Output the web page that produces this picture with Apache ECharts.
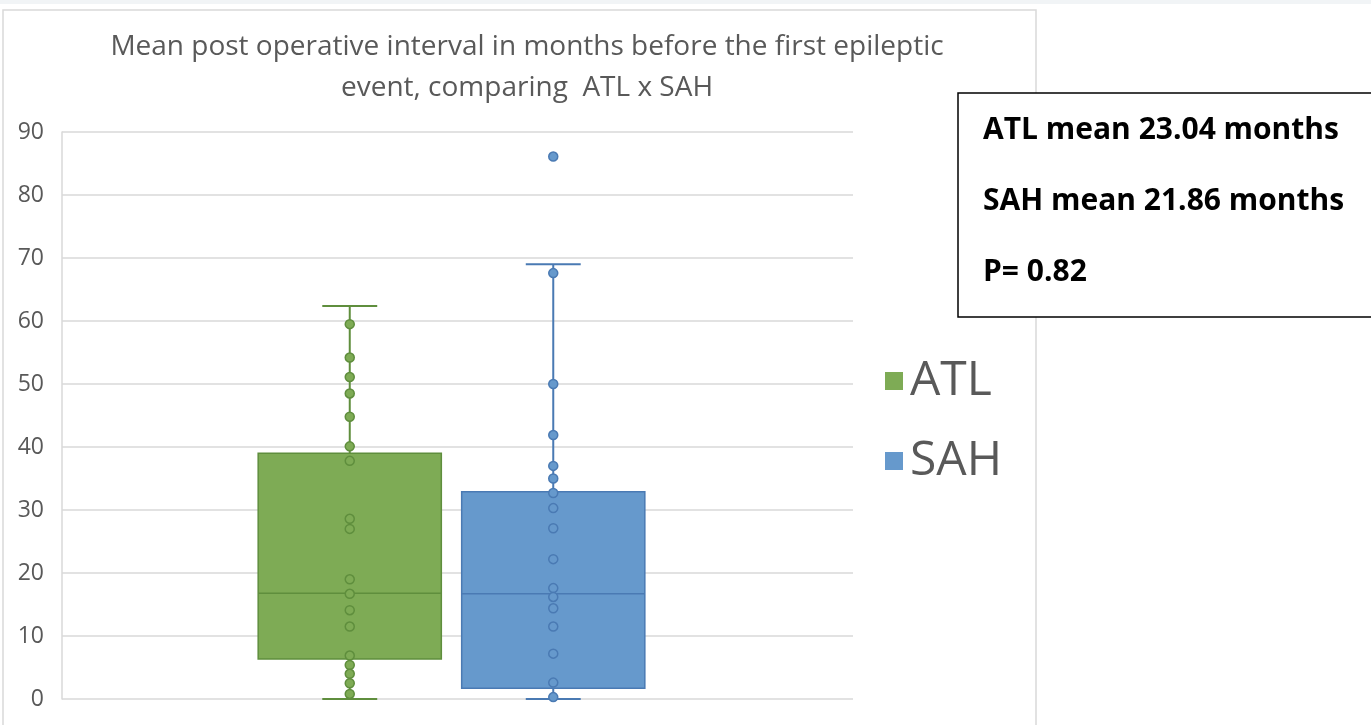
<!DOCTYPE html>
<html>
<head>
<meta charset="utf-8">
<script src="https://cdn.jsdelivr.net/npm/echarts@6/dist/echarts.min.js"></script>
<style>
html,body{margin:0;padding:0;background:#fff;}
#chart{width:1371px;height:725px;}
</style>
</head>
<body>
<div id="chart"></div>
<script>
// ---- data ----
const groups = ['ATL', 'SAH'];
// [min, Q1, median, Q3, max] (whisker ends and box)
const atlBox = [0, 6.35, 16.8, 39.0, 62.4];
const sahBox = [0, 1.7, 16.7, 32.9, 69.0];
// individual data points
const atlPoints = [59.5, 54.2, 51.1, 48.5, 44.8, 40.1, 37.8, 28.6, 27.0, 19.0, 16.7, 14.1, 11.5, 6.9, 5.4, 4.0, 2.5, 0.8];
const sahPoints = [86.1, 67.6, 50.0, 41.9, 37.0, 35.0, 32.7, 30.3, 27.1, 22.2, 17.6, 16.2, 14.4, 11.5, 7.2, 2.6, 0.3];
const yTicks = [0, 10, 20, 30, 40, 50, 60, 70, 80, 90];
const titleText = 'Mean post operative interval in months before the first epileptic\nevent, comparing  ATL x SAH';
const statsLines = ['ATL mean 23.04 months', 'SAH mean 21.86 months', 'P= 0.82'];

const colors = {
  ATL: { fill: '#7eab55', border: '#5f8e3d' },
  SAH: { fill: '#6699cc', border: '#4a7ab3' }
};

function boxRenderer(params, api) {
  const cat = api.value(0);
  const band = api.size([1, 0])[0];
  const cx = api.coord([cat, 0])[0];
  const yMin = api.coord([cat, api.value(1)])[1];
  const yQ1 = api.coord([cat, api.value(2)])[1];
  const yMed = api.coord([cat, api.value(3)])[1];
  const yQ3 = api.coord([cat, api.value(4)])[1];
  const yMax = api.coord([cat, api.value(5)])[1];
  const bw = band * 0.9;
  const cw = band * 0.27;
  const c = colors[groups[cat]];
  return {
    type: 'group',
    children: [
      { type: 'line', shape: { x1: cx, y1: yMax, x2: cx, y2: yMin }, style: { stroke: c.border, lineWidth: 2 } },
      { type: 'line', shape: { x1: cx - cw / 2, y1: yMax, x2: cx + cw / 2, y2: yMax }, style: { stroke: c.border, lineWidth: 2 } },
      { type: 'line', shape: { x1: cx - cw / 2, y1: yMin, x2: cx + cw / 2, y2: yMin }, style: { stroke: c.border, lineWidth: 2 } },
      { type: 'rect', shape: { x: cx - bw / 2, y: yQ3, width: bw, height: yQ1 - yQ3 }, style: { fill: c.fill, stroke: c.border, lineWidth: 1.5 } },
      { type: 'line', shape: { x1: cx - bw / 2, y1: yMed, x2: cx + bw / 2, y2: yMed }, style: { stroke: c.border, lineWidth: 1.5 } }
    ]
  };
}

const chart = echarts.init(document.getElementById('chart'));
const option = {
  backgroundColor: '#ffffff',
  animation: false,
  title: {
    text: titleText,
    left: 522, top: 22, textAlign: 'center',
    textStyle: { fontFamily: 'Open Sans', fontWeight: 'normal', fontSize: 28, color: '#595959', lineHeight: 41 }
  },
  legend: {
    data: [
      { name: 'ATL', itemStyle: { color: colors.ATL.fill } },
      { name: 'SAH', itemStyle: { color: colors.SAH.fill } }
    ],
    orient: 'vertical', left: 885, top: 357, padding: 0,
    icon: 'rect', itemWidth: 18, itemHeight: 18, itemGap: 32,
    selectedMode: false,
    textStyle: { fontFamily: 'Open Sans', fontSize: 48, color: '#595959', padding: [0, 0, 0, 2] }
  },
  grid: [
    { left: 62, right: 518, top: 132, bottom: 26 },
    { left: 248, right: 716, top: 132, bottom: 26 }
  ],
  xAxis: [
    { type: 'category', gridIndex: 0, data: [''], axisLine: { show: false }, axisTick: { show: false }, axisLabel: { show: false } },
    { type: 'category', gridIndex: 1, data: groups, show: false }
  ],
  yAxis: [
    {
      type: 'value', gridIndex: 0, min: yTicks[0], max: yTicks[yTicks.length - 1], interval: 10,
      axisLine: { show: true, lineStyle: { color: '#d9d9d9', width: 1.5 } },
      axisTick: { show: false },
      splitLine: { lineStyle: { color: '#d9d9d9', width: 1.5 } },
      axisLabel: { margin: 18, fontFamily: 'Open Sans', fontSize: 23, color: '#595959' }
    },
    { type: 'value', gridIndex: 1, min: yTicks[0], max: yTicks[yTicks.length - 1], interval: 10, show: false }
  ],
  series: [
    {
      name: 'ATL', type: 'custom', xAxisIndex: 1, yAxisIndex: 1, z: 2,
      itemStyle: { color: colors.ATL.fill },
      renderItem: boxRenderer,
      encode: { x: 0, y: [1, 2, 3, 4, 5] },
      data: [[0].concat(atlBox)]
    },
    {
      name: 'SAH', type: 'custom', xAxisIndex: 1, yAxisIndex: 1, z: 2,
      itemStyle: { color: colors.SAH.fill },
      renderItem: boxRenderer,
      encode: { x: 0, y: [1, 2, 3, 4, 5] },
      data: [[1].concat(sahBox)]
    },
    {
      name: 'ATL points', type: 'scatter', xAxisIndex: 1, yAxisIndex: 1, z: 3,
      symbolSize: 9,
      itemStyle: { color: colors.ATL.fill, borderColor: colors.ATL.border, borderWidth: 1.5, opacity: 1 },
      data: atlPoints.map(v => [0, v])
    },
    {
      name: 'SAH points', type: 'scatter', xAxisIndex: 1, yAxisIndex: 1, z: 3,
      symbolSize: 9,
      itemStyle: { color: colors.SAH.fill, borderColor: colors.SAH.border, borderWidth: 1.5, opacity: 1 },
      data: sahPoints.map(v => [1, v])
    }
  ],
  graphic: [
    { type: 'rect', z: -10, shape: { x: 0, y: 0, width: 1371, height: 4 }, style: { fill: '#f1f4f6' } },
    { type: 'rect', z: -9, shape: { x: 3, y: 10, width: 1033, height: 720 }, style: { fill: '#ffffff', stroke: '#d9d9d9', lineWidth: 1.5 } },
    { type: 'rect', z: 10, shape: { x: 958, y: 93, width: 430, height: 224 }, style: { fill: '#ffffff', stroke: '#000000', lineWidth: 1.5 } },
    { type: 'text', z: 11, left: 983, top: 115, style: { text: statsLines[0], fill: '#000', font: 'bold 30px "Open Sans"' } },
    { type: 'text', z: 11, left: 983, top: 186, style: { text: statsLines[1], fill: '#000', font: 'bold 30px "Open Sans"' } },
    { type: 'text', z: 11, left: 983, top: 257, style: { text: statsLines[2], fill: '#000', font: 'bold 30px "Open Sans"' } }
  ]
};
chart.setOption(option);
</script>
</body>
</html>
